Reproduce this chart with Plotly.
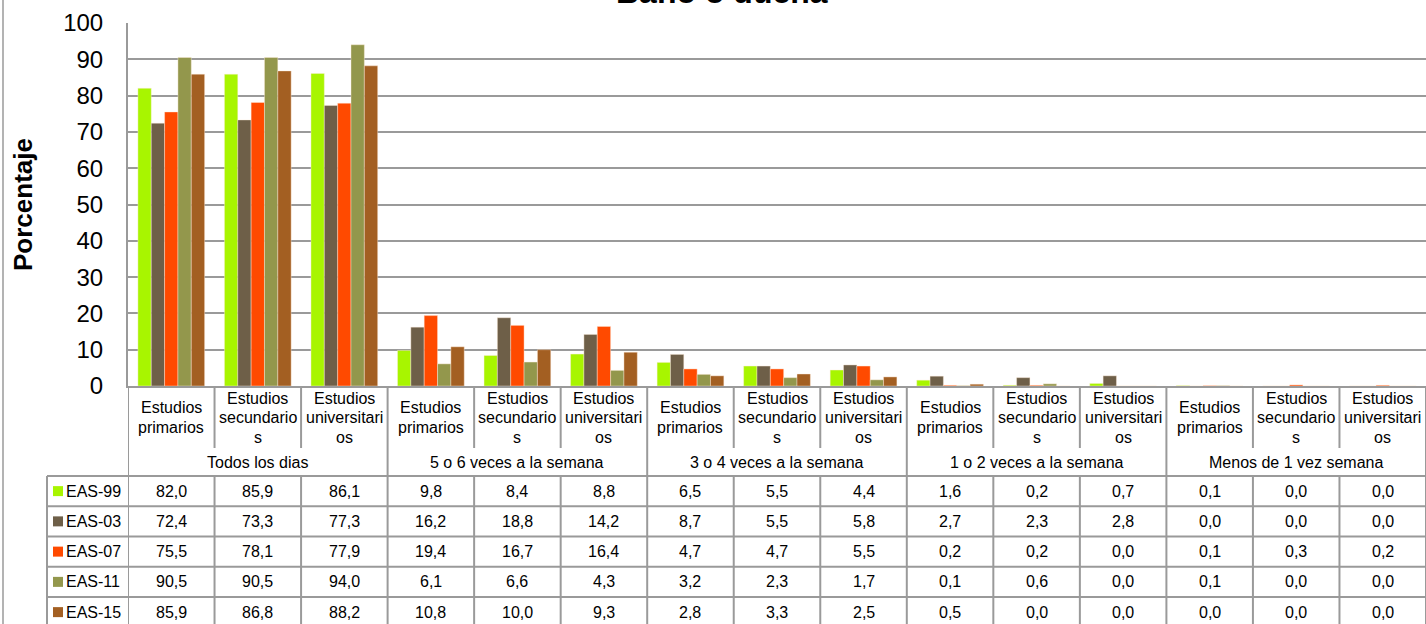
import plotly.graph_objects as go

# ---------------- data ----------------
series = ["EAS-99", "EAS-03", "EAS-07", "EAS-11", "EAS-15"]
groups = ["Todos los dias", "5 o 6 veces a la semana", "3 o 4 veces a la semana",
          "1 o 2 veces a la semana", "Menos de 1 vez semana"]
subcats = [["Estudios", "primarios"], ["Estudios", "secundario", "s"], ["Estudios", "universitari", "os"]]

eas99 = [82.0, 85.9, 86.1, 9.8, 8.4, 8.8, 6.5, 5.5, 4.4, 1.6, 0.2, 0.7, 0.1, 0.0, 0.0]
eas03 = [72.4, 73.3, 77.3, 16.2, 18.8, 14.2, 8.7, 5.5, 5.8, 2.7, 2.3, 2.8, 0.0, 0.0, 0.0]
eas07 = [75.5, 78.1, 77.9, 19.4, 16.7, 16.4, 4.7, 4.7, 5.5, 0.2, 0.2, 0.0, 0.1, 0.3, 0.2]
eas11 = [90.5, 90.5, 94.0, 6.1, 6.6, 4.3, 3.2, 2.3, 1.7, 0.1, 0.6, 0.0, 0.1, 0.0, 0.0]
eas15 = [85.9, 86.8, 88.2, 10.8, 10.0, 9.3, 2.8, 3.3, 2.5, 0.5, 0.0, 0.0, 0.0, 0.0, 0.0]
values = [eas99, eas03, eas07, eas11, eas15]

colors = ["#A8F500", "#6E5F48", "#FF4A00", "#93974C", "#A35F22"]
title = "Baño o ducha"
ytitle = "Porcentaje"

# ---------------- layout helpers ----------------
W, H = 1426, 624
FONT = "Liberation Sans, Arial, sans-serif"
GRID = "#9a9a9a"


def py(px):
    return 1 - px / H


def pxx(px):
    return px / W


ncat = len(groups) * 3
xs = list(range(ncat))

fig = go.Figure()
for name, vals, col in zip(series, values, colors):
    fig.add_trace(go.Bar(x=xs, y=vals, name=name,
                         marker=dict(color=col, line=dict(width=0.6, color="rgba(255,235,220,0.7)")),
                         showlegend=False, hoverinfo="skip"))

shapes = []
annotations = []

# table geometry (pixel rows)
top_px = 386
sub_bottom_px = 448
row_lines = [476, 506.25, 536.5, 566.75, 597, 627.25]
row_centers = [(row_lines[i] + row_lines[i + 1]) / 2 for i in range(5)]


def line(x0, y0, x1, y1, xref="x", w=2):
    shapes.append(dict(type="line", xref=xref, yref="paper", x0=x0, x1=x1, y0=y0, y1=y1,
                       line=dict(color=GRID, width=w), layer="above"))


# vertical lines in table
for k in range(ncat + 1):
    xb = k - 0.5
    if k % 3 == 0:
        line(xb, py(top_px), xb, py(H + 5))
    else:
        line(xb, py(top_px), xb, py(sub_bottom_px))
        line(xb, py(row_lines[0]), xb, py(H + 5))

# horizontal row lines
for rl in row_lines[:-1]:
    shapes.append(dict(type="line", xref="paper", yref="paper", x0=pxx(47), x1=1.0,
                       y0=py(rl), y1=py(rl), line=dict(color=GRID, width=2)))
# legend column left border
shapes.append(dict(type="line", xref="paper", yref="paper", x0=pxx(47), x1=pxx(47),
                   y0=py(row_lines[0]), y1=py(H + 5), line=dict(color=GRID, width=2)))
# outer chart border at left
shapes.append(dict(type="line", xref="paper", yref="paper", x0=pxx(3), x1=pxx(3),
                   y0=0, y1=1, line=dict(color=GRID, width=1.5)))


def txt(x, ypx, text, xref="x", size=16, xanchor="center"):
    annotations.append(dict(x=x, y=py(ypx), xref=xref, yref="paper", text=text,
                            showarrow=False, font=dict(family=FONT, size=size, color="#000"),
                            xanchor=xanchor, yanchor="middle"))


# header sub-category labels (one annotation per wrapped line)
LINE_H = 19.5
for k in range(ncat):
    lines = subcats[k % 3]
    start = 417.5 - LINE_H * (len(lines) - 1) / 2
    for i, ln in enumerate(lines):
        txt(k, start + i * LINE_H, ln)
# group labels
for g, gname in enumerate(groups):
    txt(g * 3 + 1, 462, gname)

# data rows
for r, (name, vals, col) in enumerate(zip(series, values, colors)):
    yc = row_centers[r]
    shapes.append(dict(type="rect", xref="paper", yref="paper", x0=pxx(53), x1=pxx(63),
                       y0=py(yc - 5), y1=py(yc + 5), fillcolor=col, line=dict(width=0)))
    txt(pxx(64), yc, name, xref="paper", xanchor="left")
    for k, v in enumerate(vals):
        txt(k, yc, f"{v:.1f}".replace(".", ","))

# title and y title
annotations.append(dict(x=pxx(722), y=py(-8), xref="paper", yref="paper", text=f"<b>{title}</b>",
                        showarrow=False, font=dict(family=FONT, size=32, color="#000"),
                        xanchor="center", yanchor="middle"))
annotations.append(dict(x=pxx(23), y=py(205), xref="paper", yref="paper", text=f"<b>{ytitle}</b>",
                        showarrow=False, textangle=-90,
                        font=dict(family=FONT, size=26, color="#000"),
                        xanchor="center", yanchor="middle"))

fig.update_layout(
    template="none",
    width=W, height=H, autosize=False,
    margin=dict(l=0, r=0, t=0, b=0, pad=0, autoexpand=False),
    paper_bgcolor="white", plot_bgcolor="white",
    barmode="group", bargap=0.229, bargroupgap=0,
    shapes=shapes, annotations=annotations,
    showlegend=False,
    xaxis=dict(domain=[pxx(128), 1.0], range=[-0.5, ncat - 0.5], showticklabels=False,
               showgrid=False, zeroline=False, showline=True, linecolor=GRID, linewidth=2,
               ticks="", automargin=False, fixedrange=True),
    yaxis=dict(domain=[py(top_px), py(23)], range=[0, 100], dtick=10,
               showgrid=True, gridcolor=GRID, gridwidth=2, zeroline=False,
               showline=True, linecolor=GRID, linewidth=2, ticks="",
               ticklabelstandoff=18, automargin=False, fixedrange=True,
               tickfont=dict(family=FONT, size=24, color="#000")),
)

fig.write_html("out.html", config={"displayModeBar": False},
               post_script="document.body.style.margin='0';document.body.style.overflow='hidden';")
